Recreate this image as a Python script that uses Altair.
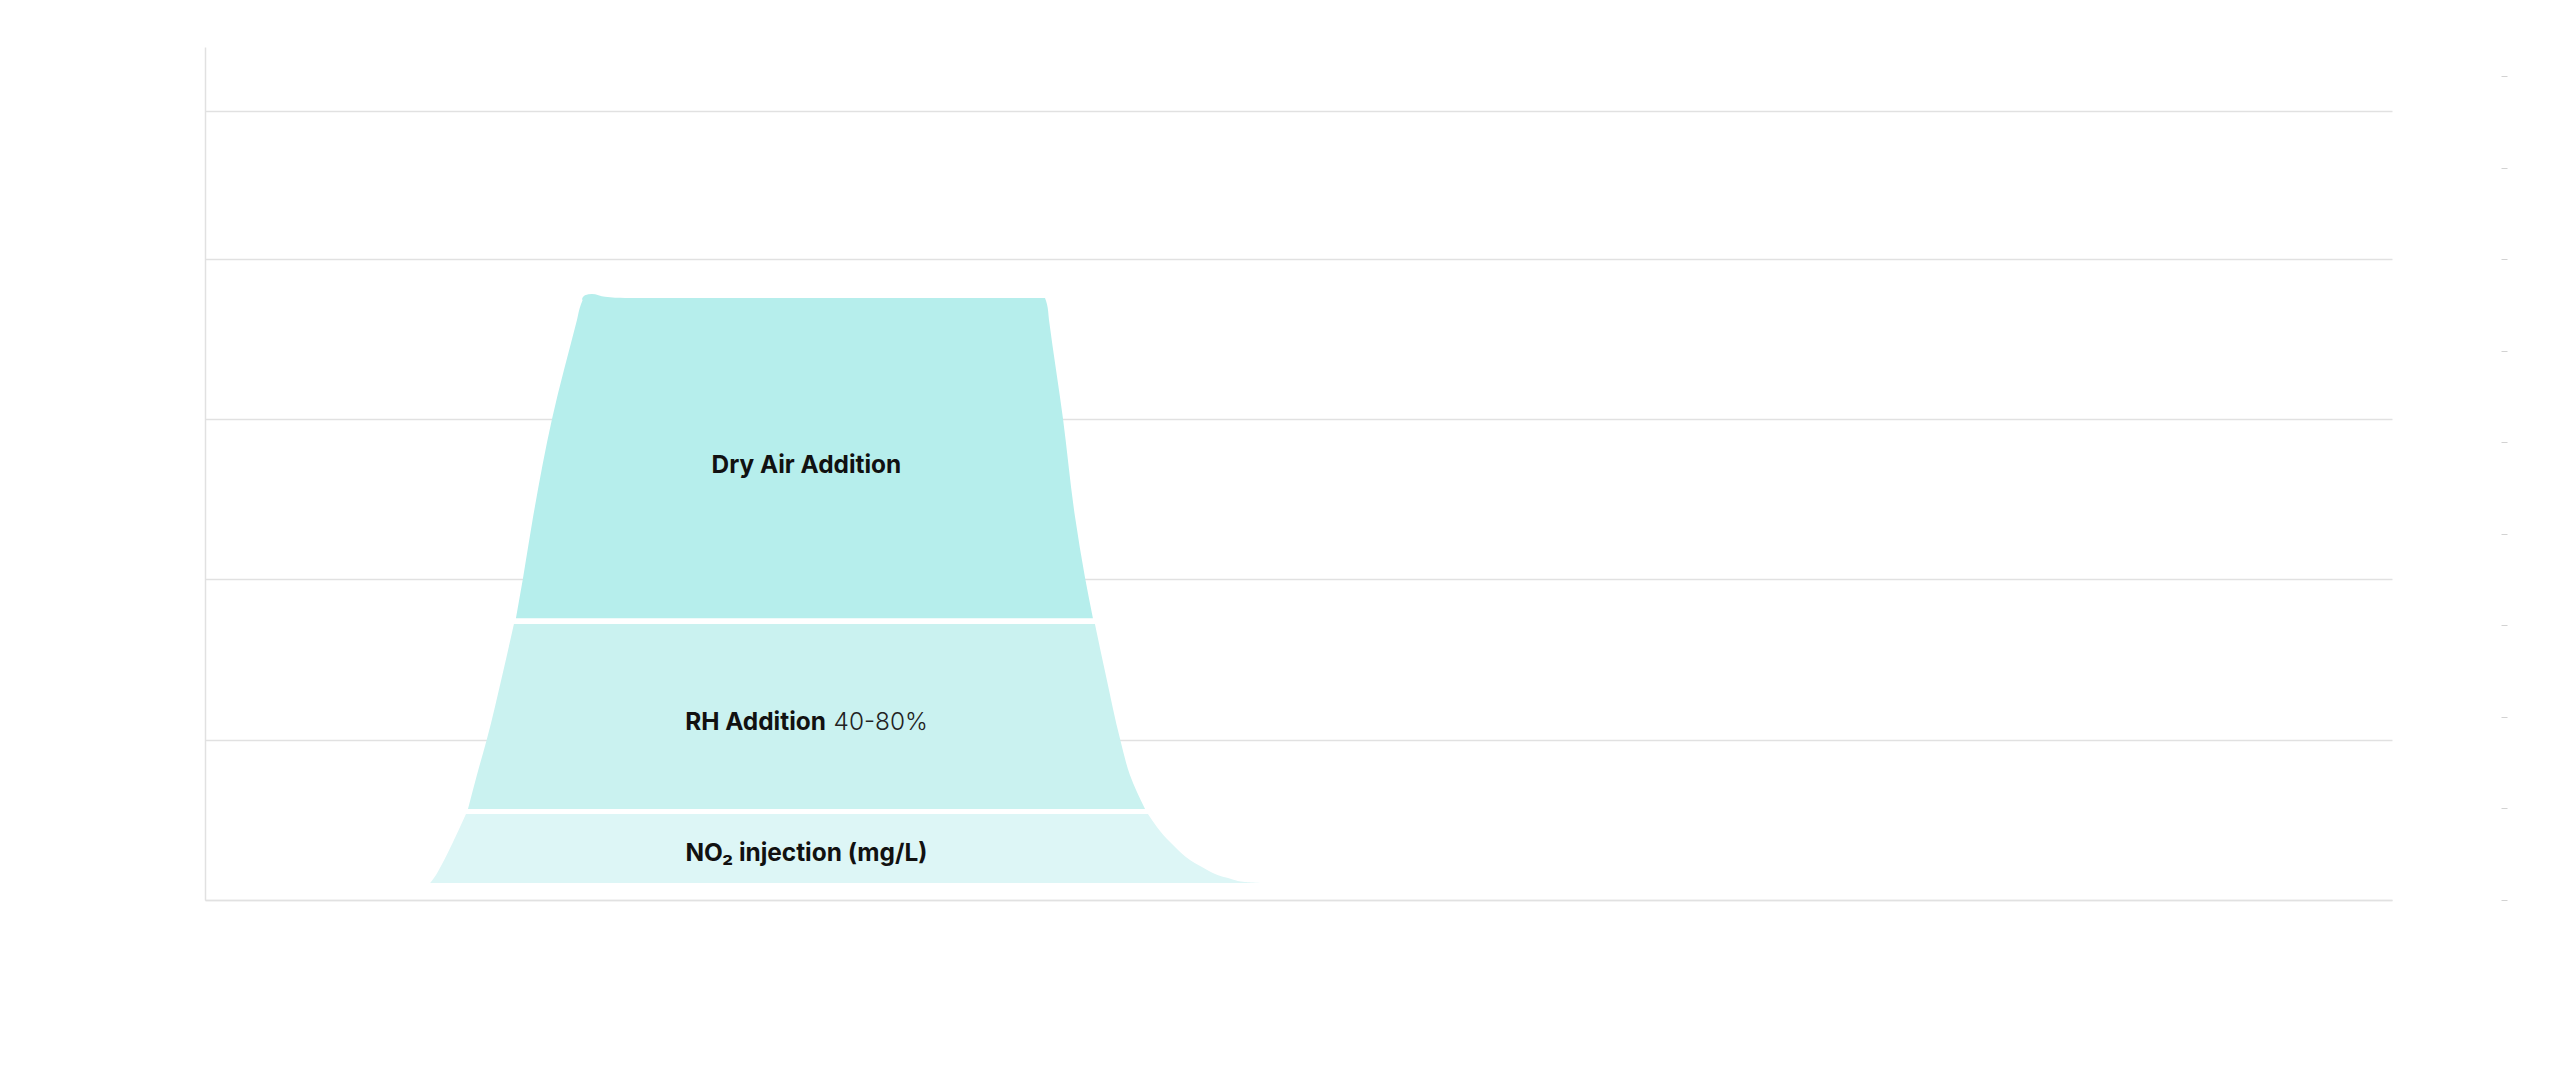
import altair as alt
import pandas as pd

# ---- data (time in min, left value units) ----
# Each band: heights (rows) with the left and right time edge at each height
# NO2 injection band
no2_y = [5.3, 5.6, 6.9, 10.6, 18.1, 26.8]
no2_left = [12.35, 12.40, 12.57, 12.95, 13.61, 14.32]
no2_right = [57.89, 57.06, 56.08, 54.60, 52.95, 51.74]

# RH addition band
rh_y = [28.4, 39.0, 50.2, 69.8, 86.1]
rh_left = [14.43, 14.92, 15.47, 16.30, 16.95]
rh_right = [51.58, 50.75, 50.21, 49.44, 48.83]

# Dry air addition band
dry_y = [87.9, 100.4, 119.4, 150.0, 180.9, 185.8, 187.7]
dry_left = [17.06, 17.45, 18.00, 19.04, 20.41, 20.63, 20.78]
dry_right = [48.72, 48.29, 47.74, 47.08, 46.31, 46.20, 46.09]

# small lip on the top-left of the dry-air band
lip_t = [20.70, 20.85, 21.23, 21.95, 23.05]
lip_hi = [187.7, 188.6, 189.0, 188.1, 187.7]
lip_lo = 187.0

left_ticks = [0, 50, 100, 150, 200, 246]
right_ticks = [0, 10, 20, 30, 40, 50, 60, 70, 80, 90]

center_labels = ["Dry Air Addition", "NO\u2082 injection (mg/L)"]
center_t = [33.0, 33.0]
center_y = [133.1, 12.2]

rh_bold = "RH Addition"
rh_light = "40-80%"
rh_bold_t = 34.07
rh_light_t = 34.49
rh_label_y = 53.0

band_colors = {"no2": "#ddf6f6", "rh": "#caf2f0", "dry": "#b6eeec"}

GRID = "#e1e1e1"
FS = 24.4
xscale = alt.Scale(domain=[0, 120], nice=False, zero=False)
yscale = alt.Scale(domain=[0, 266], nice=False)


def band(ys, lefts, rights, color, with_axes=False):
    df = pd.DataFrame({"h": ys, "l": lefts, "r": rights})
    if with_axes:
        x = alt.X("l:Q", scale=xscale,
                  axis=alt.Axis(grid=False, ticks=False, labelColor="#ffffff",
                                domainColor=GRID, domainWidth=1.5, title=None))
        y = alt.Y("h:Q", scale=yscale,
                  axis=alt.Axis(values=left_ticks, grid=True, gridColor=GRID,
                                gridWidth=1.3, ticks=False, labelColor="#ffffff",
                                domainColor=GRID, domainWidth=1.5, title=None))
    else:
        x = alt.X("l:Q", scale=xscale)
        y = alt.Y("h:Q", scale=yscale)
    return alt.Chart(df).mark_area(
        color=color, fill=color, opacity=1, fillOpacity=1,
        interpolate="monotone", orient="horizontal"
    ).encode(y=y, x=x, x2="r:Q")


no2 = band(no2_y, no2_left, no2_right, band_colors["no2"], with_axes=True)
rh = band(rh_y, rh_left, rh_right, band_colors["rh"])
dry = band(dry_y, dry_left, dry_right, band_colors["dry"])

lip_df = pd.DataFrame({"t": lip_t, "hi": lip_hi, "lo": [lip_lo] * len(lip_t)})
lip = alt.Chart(lip_df).mark_area(
    color=band_colors["dry"], fill=band_colors["dry"], opacity=1,
    interpolate="monotone", orient="vertical"
).encode(x=alt.X("t:Q", scale=xscale), y=alt.Y("hi:Q", scale=yscale), y2="lo:Q")

cdf = pd.DataFrame({"t": center_t, "y": center_y, "label": center_labels})
center_text = alt.Chart(cdf).mark_text(
    font="Inter", fontSize=FS, fontWeight="bold", color="#111111",
    align="center", baseline="alphabetic"
).encode(x=alt.X("t:Q", scale=xscale), y=alt.Y("y:Q", scale=yscale), text="label:N")

rb = pd.DataFrame({"t": [rh_bold_t], "y": [rh_label_y], "label": [rh_bold]})
rh_bold_text = alt.Chart(rb).mark_text(
    font="Inter", fontSize=FS, fontWeight="bold", color="#111111",
    align="right", baseline="alphabetic"
).encode(x=alt.X("t:Q", scale=xscale), y=alt.Y("y:Q", scale=yscale), text="label:N")

rl = pd.DataFrame({"t": [rh_light_t], "y": [rh_label_y], "label": [rh_light]})
rh_light_text = alt.Chart(rl).mark_text(
    font="Inter", fontSize=FS, fontWeight=300, color="#222222",
    align="left", baseline="alphabetic"
).encode(x=alt.X("t:Q", scale=xscale), y=alt.Y("y:Q", scale=yscale), text="label:N")

left_part = alt.layer(no2, rh, dry, lip, center_text, rh_bold_text, rh_light_text)

rdf = pd.DataFrame({"r": right_ticks})
right_axis = alt.Chart(rdf).mark_point(opacity=0).encode(
    y=alt.Y("r:Q", scale=alt.Scale(domain=[0, 93.2], nice=False),
            axis=alt.Axis(orient="right", values=right_ticks, offset=109,
                          domain=False, grid=False, ticks=True,
                          tickColor="#d2d2d2", tickSize=6, tickWidth=1,
                          labelColor="#ffffff", title=None))
)

chart = alt.layer(left_part, right_axis).resolve_scale(y="independent").properties(
    width=2187,
    height=853,
    padding={"left": 197, "top": 39, "right": 150, "bottom": 150},
    autosize=alt.AutoSizeParams(type="none"),
    background="#ffffff",
).configure(font="Inter").configure_view(strokeWidth=0, stroke="transparent")

chart.save("out.html", embed_options={"renderer": "svg", "actions": False})
